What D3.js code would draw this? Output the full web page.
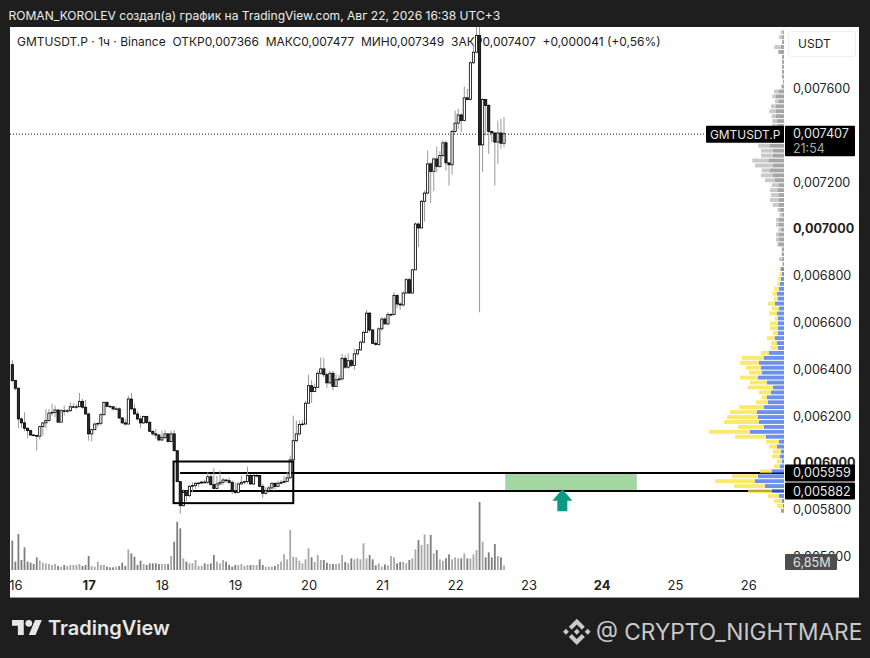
<!DOCTYPE html>
<html><head><meta charset="utf-8">
<script src="https://cdn.jsdelivr.net/npm/d3@7"></script>
<style>html,body{margin:0;padding:0;background:#1e1e1e;overflow:hidden}svg{display:block}text{font-family:Inter,"Liberation Sans",sans-serif}</style>
</head><body><svg id="c" width="870" height="658"></svg>
<script>
// prices in millionths of USDT, one candle per hour
const firstOpen = 6420;
const closes = [6352,6319,6188,6171,6148,6138,6119,6117,6114,6155,6171,6181,6213,6216,6226,6174,6223,6221,6223,6240,6240,6240,6263,6238,6209,6124,6142,6166,6169,6206,6259,6242,6240,6231,6231,6192,6171,6166,6273,6231,6209,6188,6171,6198,6173,6135,6124,6119,6098,6109,6124,6091,6124,6052,5920,5817,5874,5860,5900,5903,5913,5914,5918,5917,5941,5907,5891,5910,5917,5927,5924,5917,5879,5874,5910,5917,5920,5946,5910,5946,5946,5900,5870,5881,5893,5913,5899,5913,5917,5921,5936,6013,6095,6124,6164,6166,6255,6330,6305,6323,6383,6402,6377,6342,6383,6327,6355,6359,6447,6409,6437,6416,6466,6483,6516,6558,6640,6568,6511,6506,6573,6615,6594,6634,6634,6715,6679,6675,6726,6783,6726,6825,7021,7004,7118,7153,7278,7245,7299,7267,7314,7368,7282,7274,7416,7452,7487,7463,7560,7553,7710,7755,7827,7359,7553,7527,7416,7410,7371,7410,7366,7407];
const highs = [6440,6354,6323,6195,6216,6152,6141,6124,6117,6159,6176,6230,6230,6252,6245,6230,6230,6245,6230,6259,6255,6252,6299,6273,6269,6216,6145,6173,6173,6212,6262,6262,6245,6240,6240,6238,6195,6188,6287,6299,6252,6221,6202,6202,6202,6181,6138,6145,6126,6138,6141,6126,6138,6141,6055,5924,5888,5881,5907,5917,5917,5917,5924,5927,5960,5953,5978,5945,5967,5936,5931,5938,5924,5917,5917,5945,5924,5984,5953,5953,5953,5948,5910,5896,5903,5917,5917,5924,5927,5945,5960,6031,6202,6181,6181,6183,6266,6377,6354,6340,6394,6451,6449,6387,6394,6394,6380,6377,6466,6461,6468,6444,6487,6487,6523,6565,6654,6644,6573,6523,6580,6622,6622,6644,6640,6729,6722,6686,6734,6791,6791,6829,7028,7028,7124,7164,7335,7285,7306,7352,7332,7378,7378,7285,7423,7506,7513,7494,7609,7598,7717,7791,7862,7869,7560,7556,7534,7420,7413,7463,7470,7477];
const lows = [6345,6309,6149,6149,6135,6106,6116,6114,6052,6099,6116,6149,6176,6202,6195,6174,6174,6202,6213,6216,6235,6231,6238,6231,6206,6095,6092,6138,6152,6159,6202,6238,6235,6223,6226,6188,6166,6159,6166,6226,6206,6181,6149,6166,6166,6131,6116,6102,6092,6092,6102,6088,6091,6050,5917,5782,5814,5836,5853,5874,5888,5896,5910,5910,5910,5903,5888,5888,5903,5907,5913,5910,5867,5867,5870,5907,5907,5910,5907,5907,5938,5896,5850,5864,5881,5888,5881,5896,5910,5913,5924,5931,6007,6088,6116,6159,6174,6326,6256,6302,6320,6377,6366,6320,6335,6309,6349,6352,6352,6402,6402,6409,6397,6459,6480,6511,6558,6558,6508,6501,6501,6565,6591,6587,6630,6630,6662,6654,6668,6722,6722,6722,6886,6922,7006,7031,7150,7110,7161,7242,7261,7306,7249,7185,7232,7409,7428,7413,7460,7549,7549,7705,7751,6644,7242,7399,7321,7371,7185,7278,7342,7349];
// volume per candle, millions
const volumes = [43.1,12.3,52.9,14.7,33.3,12.3,10.8,8.8,18.6,13.7,10.8,9.8,8.8,7.4,8.8,5.9,4.9,7.4,5.9,7.4,7.4,7.4,8.8,5.9,7.4,20.6,5.9,4.9,12.3,7.4,7.4,4.9,3.9,3.9,4.9,5.9,10.8,5.9,30.4,24.5,19.6,7.4,13.7,8.8,7.4,9.8,9.8,9.8,8.8,8.8,8.8,8.8,20.6,41.7,71.1,61.3,17.2,12.3,9.8,9.8,14.7,5.9,5.9,9.8,8.8,9.8,22.1,12.3,9.8,14.7,12.3,7.4,4.9,7.4,7.4,8.8,5.9,7.4,7.4,7.4,7.4,15.7,7.4,4.9,4.9,4.9,5.9,8.8,12.3,23.5,15.7,58.8,19.6,18.6,13.7,9.8,15.7,31.9,18.6,11.8,22.1,14.7,14.7,10.8,8.8,8.8,8.8,9.8,22.1,11.8,9.8,17.2,15.7,17.2,15.7,39.2,17.2,22.1,15.7,6.9,9.8,4.9,8.3,6.9,20.6,18.6,9.8,11.8,11.8,9.8,14.7,17.2,30.4,44.1,36.8,52.4,38.2,51.5,24.5,29.4,15.7,13.7,17.2,23,15.7,18.6,17.2,17.2,24.5,17.2,17.2,23,29.4,100,41.7,18.6,26,18.6,38.2,20.6,18.6,6.85];
// volume profile rows, top to bottom: dominant part and second part (relative volume)
const profileInner = [1.3,2,2,3.3,5,2,2,2,2,2,1,2.5,5.7,8,5.7,8,8,8,7.3,6,6,6,6,14,11.3,11.3,15.7,11.3,14,11.3,9,5.7,6.7,5.7,5.7,5.7,4,2.3,5.7,5.7,3.3,5.7,5.7,5.7,2.3,2.3,2.3,1.5,3,2,3,4,5,7,6,9,5,7,6,6,6,6,9,7.3,6,15,20,25,23,22,26,17,11,13,17,16,20,27,26,25,20,34,18,5,7,3,4,2,4,12,26,29,19,12,5,2,1,3];
const profileOuter = [2,3,0,6.4,1,0,0,0,0,0,0,0.5,4.3,3.7,3.3,5,6.7,4.3,4.4,6,6,6,6,11.7,11.7,11.7,16,17.7,8.3,11.7,10,6.6,7.3,7.3,8.3,5.6,2.7,2.4,2.3,2.3,2.4,2.3,2.3,1,0,0,2.7,0,1.7,2.7,3,3,5,4.7,4,7,7,8,3.3,8,8,5,8,5.7,7.3,8,22,19,15,13,18,17,25,12,5,12,25,27,31,35,26,41,31,13,8,8,8,5,6,12,26,40,31,24,11,8,6,0];
const profileTopPrice = 7840, profileStep = 21.08;
const priceTicks = [7600,7400,7200,7000,6800,6600,6400,6200,6000,5800,5600];
const boldPrices = [7000,6000];
const dayHours = [1,25,49,73,97,121,145,169,193,217,241];
const dayLabels = ["16","17","18","19","20","21","22","23","24","25","26"];
const boldDays = ["17","24"];
const lastPrice = 7407;
const levels = [5959,5882];
const levelLabels = ["0,005959","0,005882"];
const boxA = {h0:52.8,h1:92,p0:6006,p1:5828};
const zone = {h0:161.4,h1:204.5};
const arrowAt = {h:180.1,p:5887};

const svg = d3.select("#c");
const L=10,R=859,T=27,B=597,AX=784;
const x = d3.scaleLinear().domain([0,161]).range([12.3,504]);
const y = d3.scaleLinear().domain([7600,5600]).range([88.5,556.5]);
const v = d3.scaleLinear().domain([0,100]).range([570,502]);
const w = d3.scaleLinear().domain([0,100]).range([0,100]);
const opens = closes.map((c,i)=> i===0 ? firstOpen : closes[i-1]);

svg.append("rect").attr("x",L).attr("y",T).attr("width",R-L).attr("height",B-T).attr("fill","#fff");
svg.append("line").attr("x1",L).attr("x2",R).attr("y1",B+0.5).attr("y2",B+0.5).attr("stroke","#9a9a9a");
svg.append("defs").append("clipPath").attr("id","p").append("rect").attr("x",L).attr("y",T).attr("width",R-L).attr("height",B-T);
const g = svg.append("g").attr("clip-path","url(#p)");

svg.append("text").attr("x",8.5).attr("y",20).attr("fill","#ececec").attr("font-size",12.05).text("ROMAN_KOROLEV создал(а) график на TradingView.com, Авг 22, 2026 16:38 UTC+3");
g.append("text").attr("x",17).attr("y",46).attr("fill","#1c1c1c").attr("font-size",12).attr("xml:space","preserve").style("white-space","pre").text("GMTUSDT.P · 1ч · Binance  ОТКР0,007366  МАКС0,007477  МИН0,007349  ЗАКР0,007407  +0,000041 (+0,56%)");

// price axis labels
const ax = g.append("g").attr("transform",`translate(${793},0)`).call(d3.axisRight(y).tickValues(priceTicks).tickSize(0).tickPadding(0).tickFormat(d=>"0,"+String(d*1).padStart(6,"0")));
ax.select(".domain").remove();
ax.selectAll("text").attr("font-size",12.6).attr("fill","#222").attr("font-weight",d=>boldPrices.includes(d)?700:400).attr("font-family","Inter");

// day axis
const dx = g.append("g").attr("transform",`translate(0,${580.5})`).call(d3.axisBottom(x).tickValues(dayHours).tickSize(0).tickPadding(0).tickFormat((d,i)=>dayLabels[i]));
dx.select(".domain").remove();
dx.selectAll("text").attr("font-size",13).attr("fill","#222").attr("font-weight",(d,i)=>boldDays.includes(dayLabels[i])?700:400).attr("font-family","Inter");

// volume
g.append("g").selectAll("rect").data(volumes).join("rect")
 .attr("x",(d,i)=>x(i)-0.9).attr("width",1.8).attr("y",d=>v(d)).attr("height",d=>570-v(d))
 .attr("fill",(d,i)=>closes[i]<opens[i]?"#7e7e7e":"#a8a8a8");

// last price line
g.append("line").attr("x1",L).attr("x2",706).attr("y1",y(lastPrice)+0.5).attr("y2",y(lastPrice)+0.5).attr("stroke","#111").attr("stroke-dasharray","1 2");

// levels, zone and box
g.selectAll(".lvl").data(levels).join("line").attr("class","lvl").attr("x1",x(boxA.h0)+6.5).attr("x2",AX)
 .attr("y1",d=>y(d)+0.5).attr("y2",d=>y(d)+0.5).attr("stroke","#000").attr("stroke-width",2);
g.append("rect").attr("x",x(zone.h0)).attr("width",x(zone.h1)-x(zone.h0)).attr("y",y(levels[0])+1.5).attr("height",y(levels[1])-y(levels[0])-2).attr("fill","#a3d6a3");

// wicks and bodies
const cg = g.append("g");
cg.selectAll("line").data(closes).join("line").attr("x1",(d,i)=>x(i)).attr("x2",(d,i)=>x(i))
 .attr("y1",(d,i)=>y(highs[i])).attr("y2",(d,i)=>y(lows[i])).attr("stroke","#999").attr("stroke-width",1);
cg.selectAll("rect").data(closes).join("rect").attr("x",(d,i)=>x(i)-1.1).attr("width",2.2)
 .attr("y",(d,i)=>y(Math.max(d,opens[i]))).attr("height",(d,i)=>Math.max(0.6,Math.abs(y(d)-y(opens[i]))))
 .attr("fill",(d,i)=>d<opens[i]?"#2a2a2a":"#fff").attr("stroke","#000").attr("stroke-width",0.8);

g.append("rect").attr("x",x(boxA.h0)).attr("width",x(boxA.h1)-x(boxA.h0)).attr("y",y(boxA.p0)).attr("height",y(boxA.p1)-y(boxA.p0))
 .attr("fill","none").attr("stroke","#000").attr("stroke-width",2);

// arrow
const ax0=x(arrowAt.h), ay0=y(arrowAt.p);
g.append("path").attr("fill","#0a9a82").attr("d",d3.line()([[ax0,ay0],[ax0+10,ay0+11.5],[ax0+5,ay0+11.5],[ax0+5,ay0+22],[ax0-5,ay0+22],[ax0-5,ay0+11.5],[ax0-10,ay0+11.5]])+"Z");

// volume profile
const isGrey = p => p>6840 || p<5800;
const rows = profileInner.map((a,i)=>({a,b:profileOuter[i],p:profileTopPrice-i*profileStep}));
const pg = g.append("g").attr("opacity",0.75);
pg.selectAll(".a").data(rows).join("rect").attr("class","a").attr("x",d=>AX-w(d.a)).attr("width",d=>w(d.a))
 .attr("y",d=>y(d.p)-2).attr("height",3.9).attr("fill",d=>isGrey(d.p)?"#888":"#3e6ce8");
pg.selectAll(".b").data(rows).join("rect").attr("class","b").attr("x",d=>AX-w(d.a)-w(d.b)).attr("width",d=>w(d.b))
 .attr("y",d=>y(d.p)-2).attr("height",3.9).attr("fill",d=>isGrey(d.p)?"#b7b7b7":"#f8e23e");

// tags
function tag(x0,y0,wd,h,txt,fill,col,tx,fs){
  g.append("rect").attr("x",x0).attr("y",y0).attr("width",wd).attr("height",h).attr("fill",fill).attr("rx",1);
  if(txt) g.append("text").attr("x",tx||x0+8).attr("y",y0+h/2+4.5).attr("font-size",fs||12.6).attr("fill",col).text(txt);
}
const ly = y(lastPrice);
tag(706,ly-8,78,17,"GMTUSDT.P","#000","#e8e8e8",710,11.9);
tag(785,ly-8,70,30.5,"","#000");
g.append("text").attr("x",793).attr("y",ly+4.5).attr("font-size",12.6).attr("fill","#e8e8e8").text("0,"+String(lastPrice).padStart(6,"0"));
g.append("text").attr("x",793).attr("y",ly+19).attr("font-size",12.4).attr("fill","#a8a8a8").text("21:54");
levels.forEach((d,i)=>tag(785,y(d)-8,70,17,levelLabels[i],"#000","#e8e8e8",793));
tag(785,554,52,16,"6,85M","#4e4e4e","#e0e0e0",793);

// currency button
g.append("rect").attr("x",788.5).attr("y",31.5).attr("width",67).attr("height",25).attr("rx",3).attr("fill","#fff").attr("stroke","#eeeeee");
g.append("text").attr("x",798).attr("y",48).attr("font-size",12).attr("fill","#222").text("USDT");

// logos
const tv = svg.append("g").attr("transform","translate(12,616.6) scale(0.84)").attr("fill","#e6e6e6");
tv.append("path").attr("d","M14 22H7V11H0V4h14v18zM28 22h-8l7.5-18h8L28 22z");
tv.append("circle").attr("cx",20).attr("cy",8).attr("r",4);
svg.append("text").attr("x",48).attr("y",635).attr("font-size",20).attr("font-weight",600).attr("fill","#e6e6e6").text("TradingView");
svg.append("path").attr("transform","translate(564,619) scale(0.2)").attr("fill","#c9c9c9")
 .attr("d","M38.73 53.2 64 27.93l25.28 25.28 14.7-14.7L64 -1.47 24.03 38.5zM9.73 49.3 24.43 64 9.73 78.7 -4.97 64zM38.73 74.8 64 100.07l25.28-25.27 14.71 14.69L64 129.46 24.03 89.5zM118.27 49.3 132.97 64l-14.7 14.7-14.7-14.7zM78.91 64 64 49.08 52.98 60.1l-1.27 1.27-2.61 2.61L64 78.9z");
svg.append("text").attr("x",596).attr("y",640).attr("font-size",22.7).attr("font-family","Open Sans").attr("fill","#c9c9c9").text("@ CRYPTO_NIGHTMARE");
</script></body></html>
